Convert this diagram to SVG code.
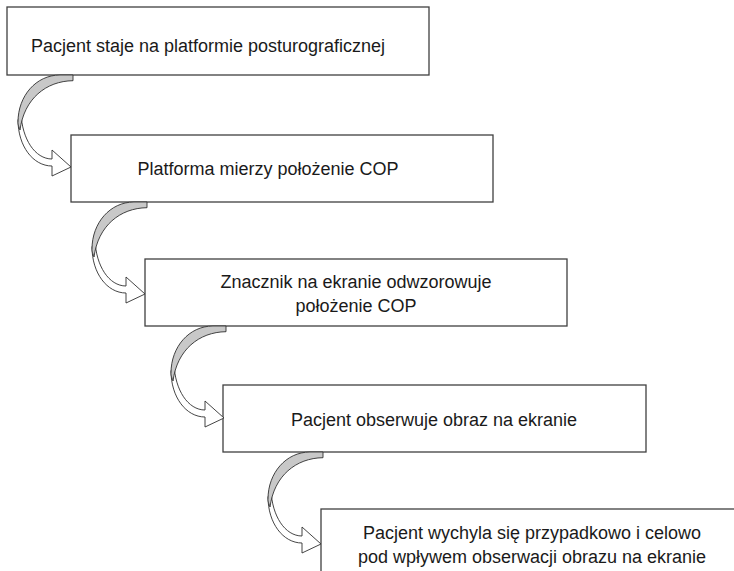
<svg xmlns="http://www.w3.org/2000/svg" width="734" height="571" viewBox="0 0 734 571">
<style>
.box{fill:#fff;stroke:#404040;stroke-width:1.3}
.t{font-family:"Liberation Sans",Arial,sans-serif;font-size:18px;fill:#1a1a1a;text-anchor:middle}
.band{fill:#fff;stroke:#303030;stroke-width:0.9;stroke-linejoin:miter}
.shade{fill:#c8c8c8;stroke:#303030;stroke-width:0.9}
</style>
<defs>
<g id="carrow">
<path class="band" d="M -55,45 C -55,71 -40,91 -21,91 L -21,101 L -2,92 L -21,75 L -21,84 C -38,84 -51,64 -52,38 Z"/>
<path class="shade" d="M -13,0 L 0,0 L 0,5.7 C -27,6 -49,24 -53,55 C -55,50 -55,48 -55,47 C -55,21 -37,0 -13,0 Z"/>
</g>
</defs>
<g id="n1"><rect class="box" x="7" y="7" width="422" height="68"/><text class="t" x="208" y="52">Pacjent staje na platformie posturograficznej</text></g>
<g id="n2"><rect class="box" x="71" y="135" width="422" height="67"/><text class="t" x="268" y="175">Platforma mierzy położenie COP</text></g>
<g id="n3"><rect class="box" x="145" y="259" width="422" height="67"/><text class="t" x="356" y="288">Znacznik na ekranie odwzorowuje</text><text class="t" x="356" y="312">położenie COP</text></g>
<g id="n4"><rect class="box" x="223" y="385" width="423" height="67"/><text class="t" x="434" y="426">Pacjent obserwuje obraz na ekranie</text></g>
<g id="n5"><rect class="box" x="321" y="509" width="422" height="70"/><text class="t" x="532" y="539">Pacjent wychyla się przypadkowo i celowo</text><text class="t" x="532" y="563">pod wpływem obserwacji obrazu na ekranie</text></g>
<g id="connectors">
<use href="#carrow" transform="translate(73,75)"/>
<use href="#carrow" transform="translate(147,202)"/>
<use href="#carrow" transform="translate(226,326)"/>
<use href="#carrow" transform="translate(323,452)"/>
</g>
</svg>
